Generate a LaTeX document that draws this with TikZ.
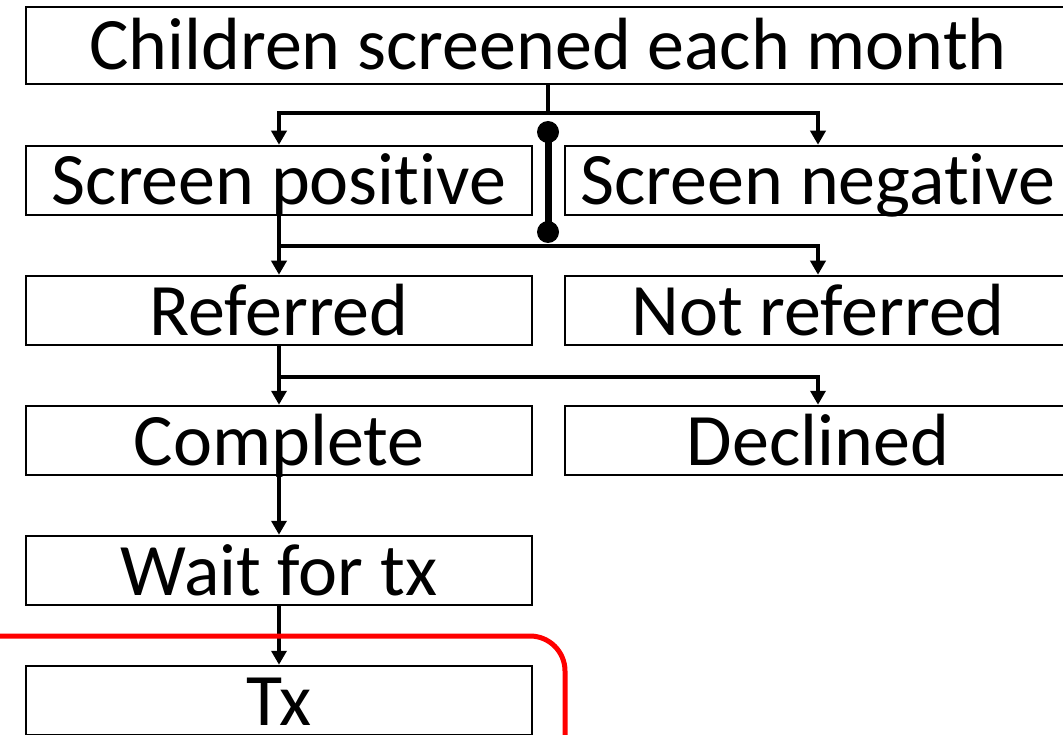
\documentclass[tikz,border=0pt]{standalone}
\usepackage{fontspec}
\setmainfont{Carlito}[Ligatures=NoCommon]
\usetikzlibrary{arrows.meta}

\begin{document}
\begin{tikzpicture}[x=1pt, y=-1pt,
    stage/.style={rectangle, draw=black, line width=2.5pt, minimum width=506pt, minimum height=69pt, inner sep=0pt, text height=56pt, text depth=7pt, font=\fontsize{74}{80}\selectfont},
    wire/.style={line width=4.5pt},
    tip/.style={-{Triangle[width=15pt,length=14pt]}},
    bar/.style={line width=7pt},
    bracket/.style={draw=red, line width=5pt, rounded corners=35pt}
]
\useasboundingbox (0,0) rectangle (1063,735);

% --- Boxes ---
\node[stage, minimum width=1044pt, minimum height=77pt] (top) at (548,45.5) {Children screened each month};

\node[stage] (sp)   at (279,180.5) {Screen positive};
\node[stage] (sn)   at (818,180.5) {Screen negative};
\node[stage] (ref)  at (279,310.5) {Referred};
\node[stage] (nref) at (818,310.5) {Not referred};
\node[stage] (cmp)  at (279,440.5) {Complete};
\node[stage] (dec)  at (818,440.5) {Declined};
\node[stage] (wait) at (279,570.5) {Wait for tx};
\node[stage] (tx)   at (279,700.5) {Tx};

% Junction points
\coordinate (j1) at (548,113);
\coordinate (j2) at (279,246);
\coordinate (j3) at (279,377);

% --- Splits ---
\draw[wire] (top) -- (j1);
\draw[wire, tip] (j1) -| (sp);
\draw[wire, tip] (j1) -| (sn);

\draw[wire] ([yshift=45pt]sp.south) -- (j2);
\draw[wire, tip] (j2) -- (ref);
\draw[wire, tip] (j2) -| (nref);

\draw[wire] (ref) -- (j3);
\draw[wire, tip] (j3) -- (cmp);
\draw[wire, tip] (j3) -| (dec);

% --- Straight chain ---
\draw[wire, tip] ([yshift=25pt]cmp.south) -- (wait);
\draw[wire, tip] (wait) -- (tx);

% Bar between the two splits
\coordinate (barA) at (548,132);
\coordinate (barB) at (548,232);
\draw[bar] (barA) -- (barB);
\fill (barA) circle (11pt);
\fill (barB) circle (11pt);

% Red outline
\draw[bracket] (-20,636) -| (565,760);

\end{tikzpicture}
\end{document}
